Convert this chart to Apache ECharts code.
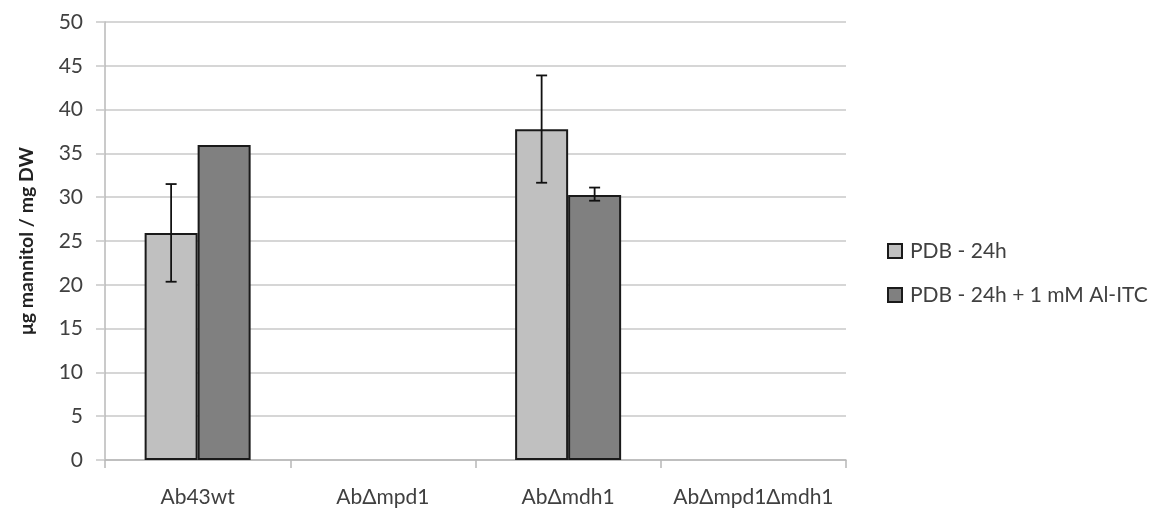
<!DOCTYPE html>
<html>
<head>
<meta charset="utf-8">
<script src="https://cdn.jsdelivr.net/npm/echarts@6/dist/echarts.min.js"></script>
<style>html,body{margin:0;padding:0;background:#fff}#c{width:1166px;height:516px}</style>
</head>
<body>
<div id="c"></div>
<script>
var categories = ['Ab43wt', 'AbΔmpd1', 'AbΔmdh1', 'AbΔmpd1Δmdh1'];
var seriesNames = ['PDB - 24h', 'PDB - 24h + 1 mM Al-ITC'];
var pdbValues = [25.9, null, 37.75, null];
var pdbErrLow = [20.35, null, 31.65, null];
var pdbErrHigh = [31.5, null, 43.9, null];
var aitcValues = [35.95, null, 30.25, null];
var aitcErrLow = [null, null, 29.6, null];
var aitcErrHigh = [null, null, 31.1, null];
var yTicks = [0, 5, 10, 15, 20, 25, 30, 35, 40, 45, 50];

var BAR_W = 53;
var font = 'Lato, "Open Sans", sans-serif';
var FS = 21;

function errData(lo, hi) {
  var d = [];
  for (var i = 0; i < categories.length; i++) {
    if (lo[i] != null && hi[i] != null) d.push([i, lo[i], hi[i]]);
  }
  return d;
}
function errSeries(lo, hi, offset) {
  return {
    type: 'custom',
    data: errData(lo, hi),
    z: 10,
    silent: true,
    renderItem: function (params, api) {
      var x = api.value(0);
      var pLo = api.coord([x, api.value(1)]);
      var pHi = api.coord([x, api.value(2)]);
      var cx = pLo[0] + offset;
      var hw = 5.5;
      var st = { stroke: '#111', lineWidth: 1.8 };
      return {
        type: 'group',
        children: [
          { type: 'line', shape: { x1: cx, y1: pHi[1], x2: cx, y2: pLo[1] }, style: st },
          { type: 'line', shape: { x1: cx - hw, y1: pHi[1], x2: cx + hw, y2: pHi[1] }, style: st },
          { type: 'line', shape: { x1: cx - hw, y1: pLo[1], x2: cx + hw, y2: pLo[1] }, style: st }
        ]
      };
    }
  };
}

var chart = echarts.init(document.getElementById('c'));
chart.setOption({
  animation: false,
  backgroundColor: '#fff',
  textStyle: { fontFamily: font },
  grid: { left: 105, right: 320, top: 22, bottom: 56, containLabel: false },
  legend: {
    orient: 'vertical',
    left: 882,
    top: 235,
    itemWidth: 14,
    itemHeight: 14,
    itemGap: 22,
    icon: 'rect',
    textStyle: { fontSize: FS, lineHeight: 22, color: '#404040', fontFamily: font, padding: [0, 0, 0, 3] },
    data: seriesNames
  },
  xAxis: {
    type: 'category',
    data: categories,
    axisLine: { lineStyle: { color: '#b8b8b8', width: 1.5 } },
    axisTick: { show: true, interval: 0, length: 8, lineStyle: { color: '#b8b8b8', width: 1.5 } },
    axisLabel: { interval: 0, hideOverlap: false, fontSize: FS, color: '#404040', margin: 27, fontFamily: font }
  },
  yAxis: {
    type: 'value',
    min: yTicks[0],
    max: yTicks[yTicks.length - 1],
    interval: 5,
    name: 'μg mannitol / mg DW',
    nameLocation: 'middle',
    nameGap: 68,
    nameTextStyle: { fontSize: 19.5, fontWeight: 'bold', color: '#222', fontFamily: font },
    axisLine: { show: true, lineStyle: { color: '#b8b8b8', width: 1.5 } },
    axisTick: { show: true, length: 9, lineStyle: { color: '#c8c8c8', width: 1.5 } },
    axisLabel: { fontSize: FS, color: '#404040', margin: 22, fontFamily: font },
    splitLine: { lineStyle: { color: '#c8c8c8', width: 1.5 } }
  },
  series: [
    {
      name: seriesNames[0], type: 'bar', data: pdbValues, barWidth: BAR_W, barGap: '0%',
      itemStyle: { color: '#c0c0c0', borderColor: '#1a1a1a', borderWidth: 2 }
    },
    {
      name: seriesNames[1], type: 'bar', data: aitcValues, barWidth: BAR_W, barGap: '0%',
      itemStyle: { color: '#808080', borderColor: '#1a1a1a', borderWidth: 2 }
    },
    errSeries(pdbErrLow, pdbErrHigh, -BAR_W / 2),
    errSeries(aitcErrLow, aitcErrHigh, BAR_W / 2)
  ]
});
</script>
</body>
</html>
